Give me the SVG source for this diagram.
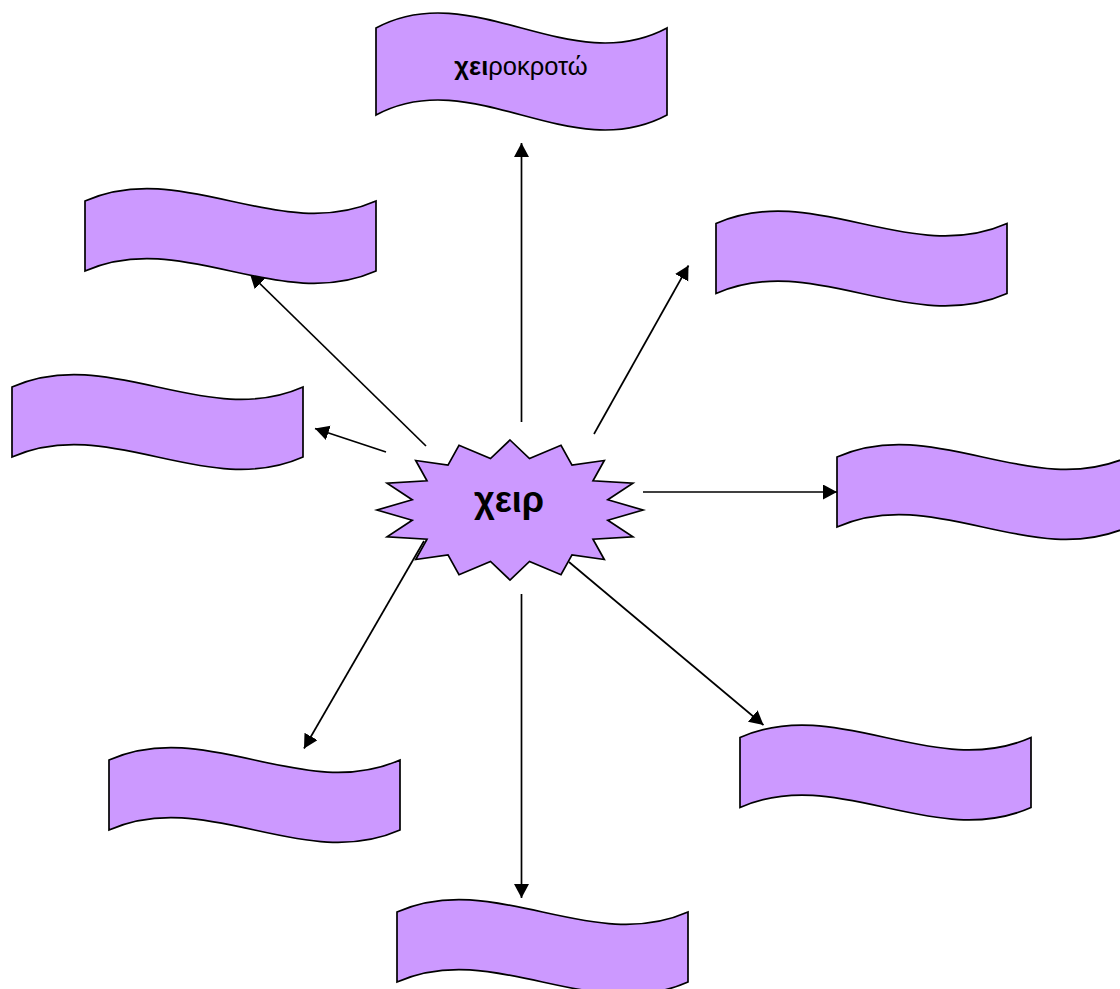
<svg xmlns="http://www.w3.org/2000/svg" xmlns:xlink="http://www.w3.org/1999/xlink" width="1120" height="989" viewBox="0 0 1120 989">
<style>
.shape{fill:#CC99FF;stroke:#000;stroke-width:1.7;stroke-linejoin:miter}
.conn{stroke:#000;stroke-width:1.7;fill:none;marker-end:url(#arr)}
.lbl{font-family:"Liberation Sans",Arial,sans-serif;fill:#000}
</style>
<defs>
<marker id="arr" markerUnits="userSpaceOnUse" markerWidth="15" markerHeight="16" refX="14" refY="7.5" orient="auto" viewBox="0 0 15 16">
<path d="M0,0 L14,7.5 L0,15 Z" fill="#000"/>
</marker>
<path id="wave" d="M0,0 C97,-43 194,43 291,0 L291,70 C194,113 97,27 0,70 Z"/>
</defs>
<rect width="1120" height="989" fill="#fff"/>
<g id="connectors">
<line class="conn" x1="521.5" y1="422" x2="521.5" y2="143"/>
<line class="conn" x1="426" y1="446" x2="250" y2="274"/>
<line class="conn" x1="386" y1="452" x2="315" y2="428.5"/>
<line class="conn" x1="594" y1="434" x2="688.5" y2="265.5"/>
<line class="conn" x1="643" y1="492" x2="837" y2="492"/>
<line class="conn" x1="424" y1="541" x2="304" y2="748.5"/>
<line class="conn" x1="521.5" y1="594" x2="521.5" y2="898"/>
<line class="conn" x1="569" y1="562" x2="763.5" y2="725"/>
</g>
<g id="node-top">
<path class="shape" d="M376,28 C473,-24 570,80 667,28 L667,115 C570,167 473,63 376,115 Z"/>
<text class="lbl" x="521" y="75" font-size="25.5" text-anchor="middle"><tspan font-weight="bold">χει</tspan>ροκροτώ</text>
</g>
<g id="node-upper-left"><use class="shape" xlink:href="#wave" href="#wave" x="85" y="201"/></g>
<g id="node-upper-right"><use class="shape" xlink:href="#wave" href="#wave" x="716" y="223.5"/></g>
<g id="node-left"><use class="shape" xlink:href="#wave" href="#wave" x="12" y="387"/></g>
<g id="node-right"><use class="shape" xlink:href="#wave" href="#wave" x="837" y="457"/></g>
<g id="node-lower-left"><use class="shape" xlink:href="#wave" href="#wave" x="109" y="760"/></g>
<g id="node-lower-right"><use class="shape" xlink:href="#wave" href="#wave" x="740" y="737.5"/></g>
<g id="node-bottom"><use class="shape" xlink:href="#wave" href="#wave" x="397" y="912"/></g>
<g id="node-center">
<polygon class="shape" points="510.0,440.0 529.5,458.5 561.0,445.3 572.0,465.1 604.3,460.5 593.0,480.8 632.9,483.2 607.8,499.8 643.0,510.0 607.8,520.2 632.9,536.8 593.0,539.2 604.3,559.5 572.0,554.9 561.0,574.7 529.5,561.5 510.0,580.0 490.5,561.5 459.0,574.7 448.0,554.9 415.7,559.5 427.0,539.2 387.1,536.8 412.2,520.2 377.0,510.0 412.2,499.8 387.1,483.2 427.0,480.8 415.7,460.5 448.0,465.1 459.0,445.3 490.5,458.5"/>
<text class="lbl" x="509" y="512" font-size="36" font-weight="bold" text-anchor="middle">χειρ</text>
</g>
</svg>
